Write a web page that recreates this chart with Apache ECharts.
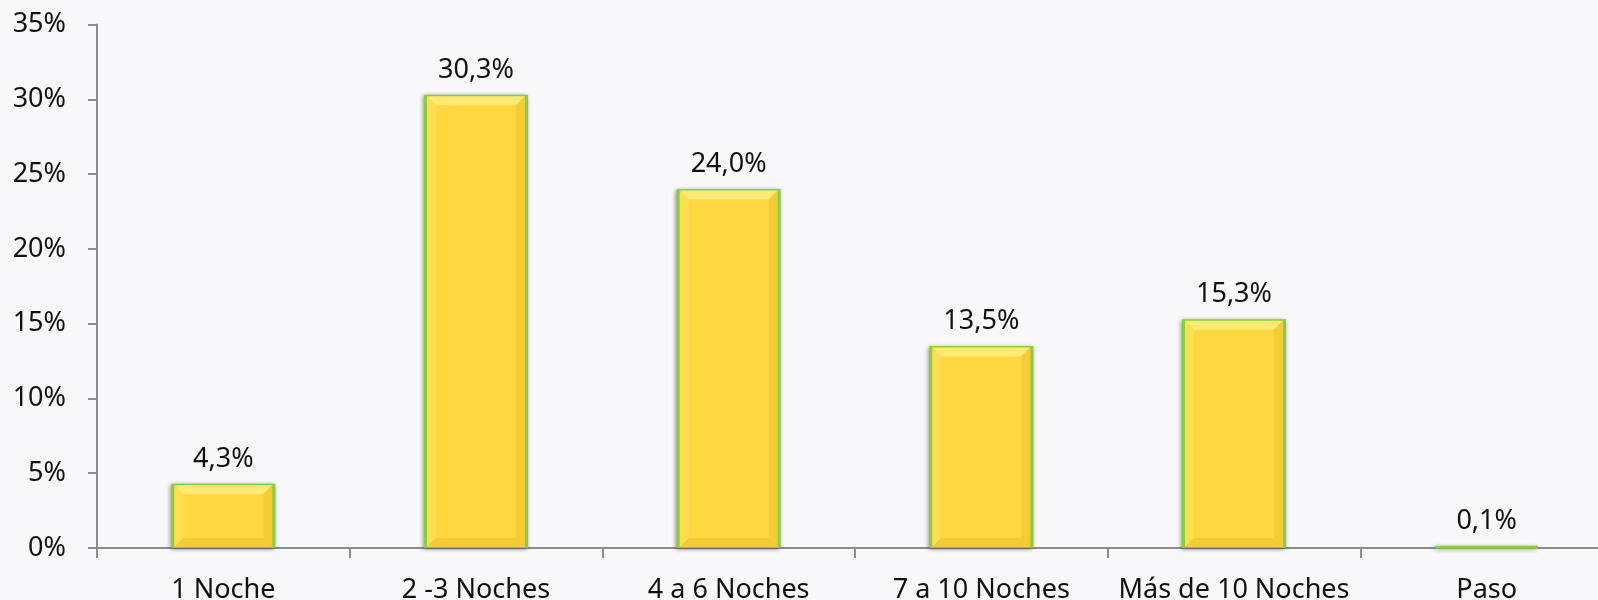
<!DOCTYPE html>
<html>
<head>
<meta charset="utf-8">
<script src="https://cdn.jsdelivr.net/npm/echarts@6/dist/echarts.min.js"></script>
<style>
html,body{margin:0;padding:0;background:#f8f8fa;}
#main{width:1598px;height:600px;}
</style>
</head>
<body>
<div id="main"></div>
<script>
const categories = ['1 Noche', '2 -3 Noches', '4 a 6 Noches', '7 a 10 Noches', 'Más de 10 Noches', 'Paso'];
const values = [4.3, 30.3, 24.0, 13.5, 15.3, 0.1];
const yTicks = [0, 5, 10, 15, 20, 25, 30, 35];

const FONT = 'Noto Sans';
const BAR_W = 104;

const chart = echarts.init(document.getElementById('main'), null, {renderer: 'canvas'});

function fmt(v) { return v.toFixed(1).replace('.', ',') + '%'; }

chart.setOption({
  backgroundColor: '#f8f8fa',
  animation: false,
  grid: {left: 97, right: -15, top: 24.5, bottom: 52, containLabel: false, outerBoundsMode: 'none'},
  xAxis: {
    type: 'category',
    data: categories,
    axisLine: {lineStyle: {color: '#8c8c8c', width: 2}},
    axisTick: {show: true, length: 10, alignWithLabel: false, lineStyle: {color: '#8c8c8c', width: 2}},
    axisLabel: {color: '#111', fontFamily: FONT, fontSize: 27, margin: 29, interval: 0}
  },
  yAxis: {
    type: 'value',
    min: yTicks[0],
    max: yTicks[yTicks.length - 1],
    interval: yTicks[1] - yTicks[0],
    axisLine: {show: true, lineStyle: {color: '#8c8c8c', width: 2}},
    axisTick: {show: true, length: 9, lineStyle: {color: '#8c8c8c', width: 2}},
    splitLine: {show: false},
    axisLabel: {color: '#111', fontFamily: FONT, fontSize: 27, margin: 31, formatter: '{value}%'}
  },
  series: [
    {
      type: 'bar',
      data: values,
      barWidth: BAR_W,
      z: 2,
      itemStyle: {
        color: '#ffd83f',
        borderColor: '#86d03a',
        borderWidth: 3,
        shadowColor: 'rgba(0,0,0,0.35)',
        shadowBlur: 4,
        shadowOffsetX: -1,
        shadowOffsetY: 1
      },
      label: {
        show: true,
        position: 'top',
        distance: 11,
        color: '#111',
        fontFamily: FONT,
        fontSize: 27,
        formatter: p => fmt(p.value)
      }
    },
    {
      type: 'custom',
      z: 3,
      silent: true,
      data: values.map((v, i) => [i, v]),
      renderItem: function (params, api) {
        const top = api.coord([api.value(0), api.value(1)]);
        const base = api.coord([api.value(0), 0]);
        const x0 = top[0] - BAR_W / 2 + 3;
        const x1 = top[0] + BAR_W / 2 - 3;
        const y0 = top[1] + 1.5;
        const y1 = base[1] - 1;
        const h = y1 - y0;
        if (h < 4) return null;
        const b = Math.min(9, h / 2);
        return {
          type: 'group',
          children: [
            {type: 'polygon', shape: {points: [[x0, y0], [x1, y0], [x1 - b, y0 + b], [x0 + b, y0 + b]]}, style: {fill: '#ffea74'}},
            {type: 'polygon', shape: {points: [[x0, y0], [x0 + b, y0 + b], [x0 + b, y1 - b], [x0, y1]]}, style: {fill: '#ffde52'}},
            {type: 'polygon', shape: {points: [[x1, y0], [x1, y1], [x1 - b, y1 - b], [x1 - b, y0 + b]]}, style: {fill: '#f6cc36'}},
            {type: 'polygon', shape: {points: [[x0, y1], [x0 + b, y1 - b], [x1 - b, y1 - b], [x1, y1]]}, style: {fill: '#f4ca36'}}
          ]
        };
      }
    }
  ]
});
</script>
</body>
</html>
